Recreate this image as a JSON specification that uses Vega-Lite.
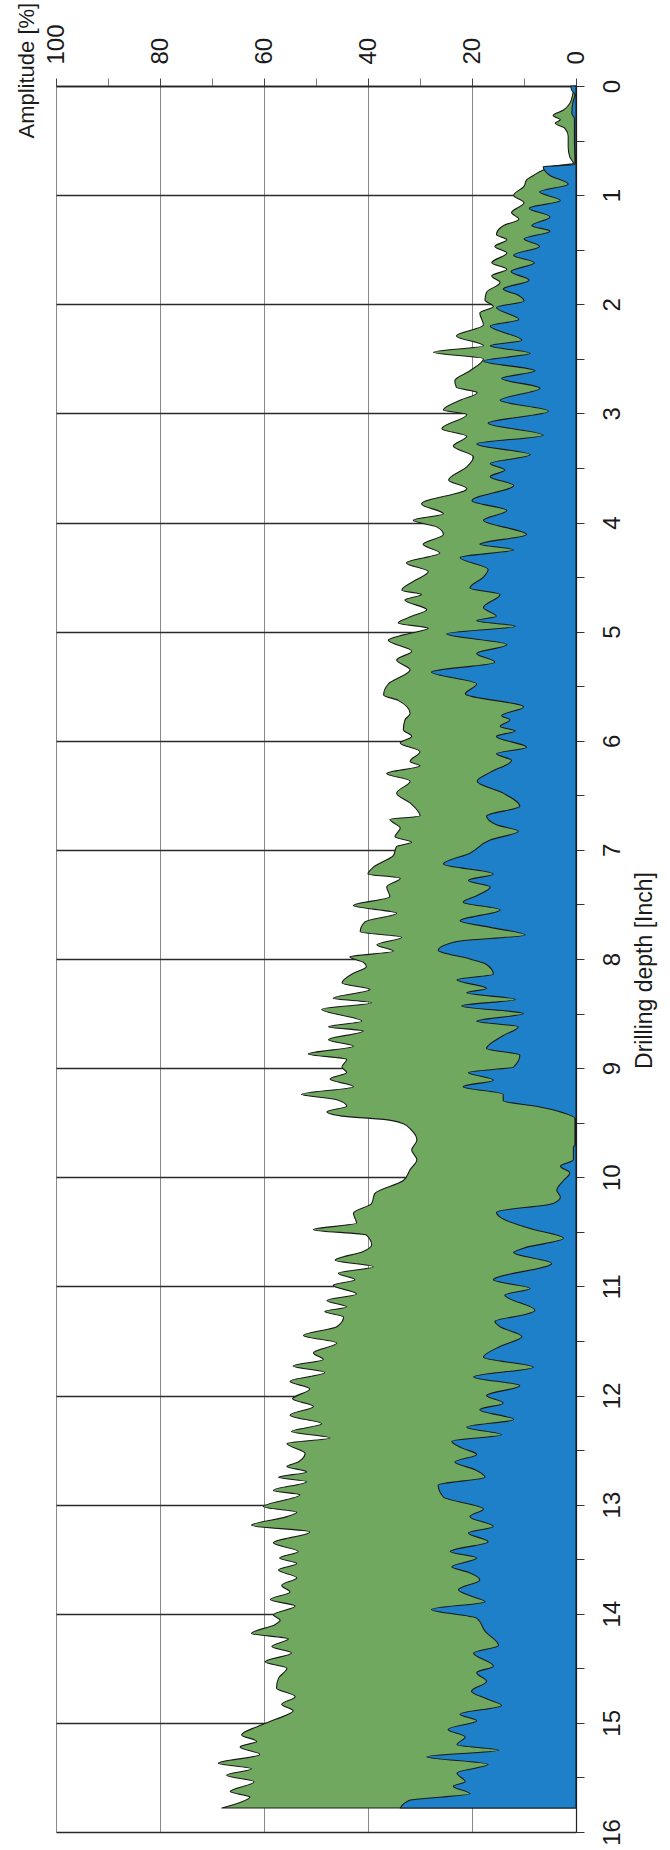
{
  "$schema": "https://vega.github.io/schema/vega-lite/v6.json",
  "width": 520,
  "height": 1746,
  "autosize": {"type": "none"},
  "padding": {"left": 56, "top": 86, "right": 94, "bottom": 18},
  "background": "white",
  "config": {"view": {"stroke": null}, "font": "Liberation Sans"},
  "datasets": {
    "green": [
      {"d":0,"a":0.2},{"d":0.05,"a":0.5},{"d":0.16,"a":1.2},{"d":0.22,"a":2.4},{"d":0.27,"a":4.4},{"d":0.31,"a":3},{"d":0.34,"a":4},{"d":0.39,"a":2.1},{"d":0.46,"a":1.5},{"d":0.56,"a":1.5},{"d":0.65,"a":1.2},{"d":0.71,"a":0.5},{"d":0.73,"a":3.7},{"d":0.77,"a":6.3},{"d":0.82,"a":8.2},{"d":0.86,"a":9.5},{"d":0.92,"a":10},{"d":1.0,"a":12},{"d":1.07,"a":10},{"d":1.16,"a":12.4},{"d":1.22,"a":11},{"d":1.28,"a":14},{"d":1.36,"a":15.3},{"d":1.41,"a":13.3},{"d":1.47,"a":15.6},{"d":1.53,"a":13.3},{"d":1.62,"a":16.2},{"d":1.68,"a":13.3},{"d":1.74,"a":16.2},{"d":1.8,"a":14.6},{"d":1.89,"a":17.2},{"d":1.96,"a":17.5},
      {"d":2.02,"a":15.9},{"d":2.08,"a":18.5},{"d":2.19,"a":17.8},{"d":2.29,"a":23},{"d":2.38,"a":17.8},{"d":2.44,"a":27.4},{"d":2.5,"a":17.8},{"d":2.61,"a":20.4},{"d":2.7,"a":23.3},{"d":2.76,"a":23},{"d":2.81,"a":19},{"d":2.88,"a":22.3},{"d":2.97,"a":25.5},{"d":3.01,"a":21},{"d":3.14,"a":25.8},{"d":3.21,"a":21},{"d":3.3,"a":23.6},{"d":3.4,"a":19.7},{"d":3.49,"a":21},{"d":3.61,"a":24.5},{"d":3.69,"a":21},{"d":3.83,"a":29.7},{"d":3.92,"a":25.5},{"d":3.98,"a":31.3},
      {"d":4.04,"a":26.8},{"d":4.11,"a":25.5},{"d":4.2,"a":29.4},{"d":4.28,"a":26.2},{"d":4.37,"a":32.6},{"d":4.45,"a":28.4},{"d":4.54,"a":31.3},{"d":4.62,"a":33.5},{"d":4.66,"a":29.7},{"d":4.71,"a":32.9},{"d":4.8,"a":28.7},{"d":4.86,"a":31.6},{"d":4.92,"a":34.2},{"d":4.97,"a":28.4},{"d":5.03,"a":33.2},{"d":5.08,"a":36.1},{"d":5.18,"a":31.6},{"d":5.26,"a":34.5},{"d":5.35,"a":31.9},{"d":5.48,"a":36.1},{"d":5.58,"a":37},{"d":5.63,"a":34.2},{"d":5.75,"a":31.9},{"d":5.81,"a":32.9},{"d":5.9,"a":33.2},{"d":5.96,"a":31.6},
      {"d":6.02,"a":33.8},{"d":6.1,"a":30},{"d":6.19,"a":31.9},{"d":6.23,"a":30},{"d":6.3,"a":36.4},{"d":6.37,"a":31.9},{"d":6.48,"a":34.5},{"d":6.57,"a":31.9},{"d":6.69,"a":30},{"d":6.72,"a":35.8},{"d":6.8,"a":33.8},{"d":6.88,"a":34.8},{"d":6.93,"a":31.6},{"d":6.97,"a":34.5},{"d":7.05,"a":35.1},{"d":7.16,"a":39},{"d":7.22,"a":40},{"d":7.26,"a":33.8},{"d":7.34,"a":36.4},{"d":7.43,"a":35.8},{"d":7.51,"a":42.8},{"d":7.58,"a":34.5},{"d":7.66,"a":40.6},{"d":7.75,"a":41.5},{"d":7.8,"a":33.5},{"d":7.87,"a":38.3},{"d":7.93,"a":35.1},{"d":7.98,"a":43.5},
      {"d":8.03,"a":40.9},{"d":8.07,"a":40.3},{"d":8.13,"a":42.8},{"d":8.22,"a":45},{"d":8.28,"a":39.6},{"d":8.36,"a":46.7},{"d":8.4,"a":39.3},{"d":8.46,"a":48.9},{"d":8.57,"a":41.2},{"d":8.62,"a":47.6},{"d":8.66,"a":40.9},{"d":8.74,"a":47.6},{"d":8.8,"a":42.8},{"d":8.87,"a":51.5},{"d":8.92,"a":44.1},{"d":8.99,"a":45},{"d":9.04,"a":44.1},{"d":9.1,"a":47.3},{"d":9.17,"a":42.8},{"d":9.24,"a":52.8},{"d":9.29,"a":46},{"d":9.35,"a":44.1},{"d":9.4,"a":47.9},{"d":9.44,"a":45},{"d":9.47,"a":37},{"d":9.51,"a":33.2},{"d":9.57,"a":31.6},{"d":9.66,"a":30.6},{"d":9.75,"a":31.6},{"d":9.84,"a":30.6},{"d":9.93,"a":31.9},
      {"d":10.03,"a":33.2},{"d":10.15,"a":38.7},{"d":10.24,"a":39.3},{"d":10.33,"a":42.8},{"d":10.42,"a":42.2},{"d":10.48,"a":50.5},{"d":10.53,"a":40.3},{"d":10.62,"a":39.3},{"d":10.68,"a":40.9},{"d":10.76,"a":46.3},{"d":10.82,"a":39},{"d":10.88,"a":45.7},{"d":10.94,"a":42.5},{"d":10.99,"a":46.7},{"d":11.07,"a":42.2},{"d":11.13,"a":47.9},{"d":11.19,"a":44.1},{"d":11.23,"a":48.3},{"d":11.28,"a":44.7},{"d":11.37,"a":46},{"d":11.45,"a":52.4},{"d":11.52,"a":46},{"d":11.61,"a":50.5},{"d":11.67,"a":48.6},{"d":11.73,"a":54.4},{"d":11.79,"a":48.3},{"d":11.87,"a":55},{"d":11.94,"a":51.2},
      {"d":12.03,"a":54.5},{"d":12.1,"a":50.5},{"d":12.18,"a":55},{"d":12.26,"a":48.9},{"d":12.33,"a":54.7},{"d":12.39,"a":47.3},{"d":12.44,"a":55.6},{"d":12.53,"a":52.1},{"d":12.61,"a":53.4},{"d":12.65,"a":55.6},{"d":12.7,"a":51.8},{"d":12.75,"a":57.2},{"d":12.79,"a":51.8},{"d":12.87,"a":58.2},{"d":12.91,"a":53.1},{"d":13.02,"a":60.1},{"d":13.07,"a":53.7},{"d":13.11,"a":55.6},{"d":13.19,"a":62.4},{"d":13.25,"a":51.2},{"d":13.35,"a":58.2},{"d":13.43,"a":53.4},{"d":13.49,"a":57},{"d":13.54,"a":53.7},{"d":13.6,"a":57.2},{"d":13.67,"a":53.7},{"d":13.74,"a":56.6},{"d":13.8,"a":55},{"d":13.87,"a":58.8},{"d":13.93,"a":54},
      {"d":14.01,"a":58.2},{"d":14.06,"a":56.9},{"d":14.1,"a":57.9},{"d":14.18,"a":62.4},{"d":14.23,"a":55.3},{"d":14.3,"a":58.5},{"d":14.36,"a":54.7},{"d":14.44,"a":59.8},{"d":14.5,"a":55.6},{"d":14.59,"a":57.2},{"d":14.68,"a":57.6},{"d":14.76,"a":54},{"d":14.83,"a":56.6},{"d":14.89,"a":54.4},{"d":14.97,"a":57.9},{"d":15.03,"a":61.1},{"d":15.11,"a":64.3},{"d":15.17,"a":61.4},{"d":15.22,"a":64.6},{"d":15.29,"a":60.8},{"d":15.37,"a":68.8},{"d":15.42,"a":62.4},{"d":15.48,"a":67.2},{"d":15.54,"a":61.9},{"d":15.63,"a":66.5},{"d":15.68,"a":62.7},{"d":15.73,"a":64.6},{"d":15.78,"a":68.1}
    ],
    "blue": [
      {"d":0,"a":1},{"d":0.04,"a":0.8},{"d":0.08,"a":0.2},{"d":0.15,"a":0.6},{"d":0.25,"a":0.8},{"d":0.3,"a":0.3},{"d":0.5,"a":0.3},{"d":0.7,"a":0.2},{"d":0.72,"a":0.3},{"d":0.74,"a":6.3},{"d":0.82,"a":5},{"d":0.9,"a":1.5},{"d":0.97,"a":7},{"d":1.05,"a":3},{"d":1.12,"a":9},{"d":1.2,"a":5},{"d":1.28,"a":8.5},{"d":1.33,"a":5},{"d":1.4,"a":10},{"d":1.47,"a":7},{"d":1.55,"a":12},{"d":1.62,"a":8},{"d":1.7,"a":12.5},{"d":1.78,"a":9},{"d":1.86,"a":14},{"d":1.92,"a":11},{"d":1.97,"a":10},
      {"d":2.03,"a":15.3},{"d":2.14,"a":11},{"d":2.2,"a":16.5},{"d":2.33,"a":10.4},{"d":2.38,"a":16.5},{"d":2.45,"a":8.8},{"d":2.52,"a":17.8},{"d":2.61,"a":7.9},{"d":2.68,"a":14.3},{"d":2.77,"a":6.9},{"d":2.88,"a":14.6},{"d":2.98,"a":5.3},{"d":3.09,"a":16.9},{"d":3.2,"a":6.3},{"d":3.28,"a":19.1},{"d":3.38,"a":8.8},{"d":3.46,"a":16.5},{"d":3.52,"a":13.7},{"d":3.58,"a":16.5},{"d":3.66,"a":12},{"d":3.8,"a":20},{"d":3.89,"a":13.3},{"d":3.98,"a":17.8},
      {"d":4.11,"a":9.5},{"d":4.2,"a":18.5},{"d":4.25,"a":12},{"d":4.32,"a":22.3},{"d":4.43,"a":16.9},{"d":4.5,"a":17.8},{"d":4.6,"a":20.4},{"d":4.66,"a":14.6},{"d":4.78,"a":17.8},{"d":4.86,"a":15.3},{"d":4.9,"a":19.1},{"d":4.95,"a":11.7},{"d":5.02,"a":24.9},{"d":5.12,"a":13.3},{"d":5.2,"a":19.1},{"d":5.28,"a":15.6},{"d":5.37,"a":27.8},{"d":5.48,"a":19.1},{"d":5.57,"a":21.3},{"d":5.69,"a":10.1},{"d":5.77,"a":14.3},{"d":5.81,"a":12.7},{"d":5.87,"a":14.6},{"d":5.91,"a":11.7},{"d":5.96,"a":15.3},
      {"d":6.06,"a":9.5},{"d":6.12,"a":15.3},{"d":6.18,"a":12.4},{"d":6.29,"a":16.5},{"d":6.37,"a":19},{"d":6.48,"a":14},{"d":6.6,"a":10.8},{"d":6.69,"a":17.2},{"d":6.77,"a":15.3},{"d":6.83,"a":11.1},{"d":6.91,"a":16.5},{"d":7.03,"a":20.4},{"d":7.13,"a":25.5},{"d":7.22,"a":15.9},{"d":7.28,"a":20.7},{"d":7.34,"a":16.5},{"d":7.42,"a":19.1},{"d":7.48,"a":21.7},{"d":7.55,"a":14.6},{"d":7.65,"a":22.3},{"d":7.71,"a":16.5},{"d":7.78,"a":9.8},{"d":7.84,"a":22.9},{"d":7.92,"a":26.5},
      {"d":8.0,"a":20.4},{"d":8.05,"a":17.2},{"d":8.14,"a":15.9},{"d":8.19,"a":22.9},{"d":8.27,"a":17.2},{"d":8.31,"a":21},{"d":8.37,"a":11.7},{"d":8.43,"a":22},{"d":8.5,"a":10.1},{"d":8.57,"a":19.1},{"d":8.62,"a":11.1},{"d":8.71,"a":14.3},{"d":8.82,"a":17.2},{"d":8.88,"a":10.8},{"d":8.99,"a":12},{"d":9.04,"a":20.7},{"d":9.11,"a":15.9},{"d":9.17,"a":21.7},{"d":9.24,"a":14},{"d":9.3,"a":14},{"d":9.35,"a":7.6},{"d":9.41,"a":2.4},{"d":9.46,"a":0.2},{"d":9.7,"a":0.2},{"d":9.73,"a":0.5},{"d":9.84,"a":0.5},{"d":9.9,"a":3},{"d":9.96,"a":1.2},
      {"d":10.03,"a":2.4},{"d":10.12,"a":3.7},{"d":10.18,"a":3},{"d":10.24,"a":4.4},{"d":10.32,"a":15.3},{"d":10.39,"a":13.7},{"d":10.47,"a":8.8},{"d":10.56,"a":2.4},{"d":10.65,"a":10.1},{"d":10.69,"a":12},{"d":10.79,"a":4.7},{"d":10.94,"a":15.9},{"d":11.02,"a":8.8},{"d":11.08,"a":13.7},{"d":11.22,"a":7.9},{"d":11.26,"a":10},{"d":11.32,"a":15.6},{"d":11.37,"a":14.6},{"d":11.46,"a":10.4},{"d":11.55,"a":14.6},{"d":11.65,"a":17.8},{"d":11.74,"a":8.2},{"d":11.83,"a":19.7},{"d":11.91,"a":10.8},
      {"d":12.0,"a":17.2},{"d":12.07,"a":14},{"d":12.13,"a":18.5},{"d":12.22,"a":12},{"d":12.29,"a":21},{"d":12.36,"a":14.3},{"d":12.42,"a":23.9},{"d":12.48,"a":22},{"d":12.54,"a":19.1},{"d":12.61,"a":23.3},{"d":12.68,"a":19.4},{"d":12.75,"a":17.5},{"d":12.82,"a":26.5},{"d":12.93,"a":25.5},{"d":13.04,"a":17.8},{"d":13.11,"a":20.4},{"d":13.2,"a":15.9},{"d":13.26,"a":20.7},{"d":13.34,"a":16.9},{"d":13.43,"a":24.2},{"d":13.49,"a":19.1},{"d":13.57,"a":23.9},{"d":13.62,"a":20.7},{"d":13.69,"a":18.5},{"d":13.78,"a":22.6},{"d":13.84,"a":20.1},{"d":13.89,"a":17.5},{"d":13.96,"a":27.8},
      {"d":14.04,"a":19.1},{"d":14.16,"a":17.5},{"d":14.29,"a":14.9},{"d":14.36,"a":19.7},{"d":14.48,"a":15.9},{"d":14.54,"a":19.1},{"d":14.62,"a":17.2},{"d":14.71,"a":20.1},{"d":14.78,"a":17.2},{"d":14.84,"a":14.3},{"d":14.92,"a":22.3},{"d":14.98,"a":19.1},{"d":15.06,"a":24.6},{"d":15.13,"a":21.3},{"d":15.2,"a":22.9},{"d":15.25,"a":14.9},{"d":15.31,"a":28.7},{"d":15.38,"a":16.9},{"d":15.46,"a":22.9},{"d":15.54,"a":21.3},{"d":15.58,"a":23.6},{"d":15.65,"a":20.4},{"d":15.71,"a":32},{"d":15.78,"a":33.8}
    ]
  },
  "encoding": {
    "x": {
      "field": "a", "type": "quantitative", "stack": null,
      "scale": {"domain": [0, 100], "reverse": true, "nice": false, "zero": true},
      "axis": {
        "orient": "top",
        "values": [0,10,20,30,40,50,60,70,80,90,100],
        "labelExpr": "datum.value % 20 === 0 ? format(datum.value, 'd') : ''",
        "labelAngle": 270, "labelAlign": "left", "labelBaseline": "middle",
        "labelFlush": false, "labelOverlap": false, "labelBound": false,
        "labelFontSize": 24, "labelColor": "#1a1a1a", "labelPadding": 14,
        "tickColor": "#444", "tickSize": 8,
        "tickOpacity": {"condition": {"test": "datum.value % 20 === 0", "value": 1}, "value": 0.7},
        "grid": true, "gridColor": "#8a8a8a", "gridWidth": 1,
        "gridOpacity": {"condition": {"test": "datum.value % 20 === 0", "value": 1}, "value": 0},
        "domainColor": "#222", "domainWidth": 1.5,
        "title": "Amplitude [%]", "titleAngle": 270, "titleAlign": "left", "titleBaseline": "middle",
        "titleX": -30, "titleY": 52, "titleFontSize": 22, "titleFontWeight": "normal", "titleColor": "#1a1a1a", "titleLimit": 400
      }
    },
    "y": {
      "field": "d", "type": "quantitative",
      "scale": {"domain": [0, 16], "reverse": true, "nice": false},
      "axis": {
        "orient": "right",
        "values": [0,0.5,1,1.5,2,2.5,3,3.5,4,4.5,5,5.5,6,6.5,7,7.5,8,8.5,9,9.5,10,10.5,11,11.5,12,12.5,13,13.5,14,14.5,15,15.5,16],
        "labelExpr": "datum.value % 1 === 0 ? format(datum.value, 'd') : ''",
        "labelAngle": 270, "labelAlign": "center", "labelBaseline": "top",
        "labelOverlap": false, "labelFlush": false, "labelBound": false,
        "labelFontSize": 24, "labelColor": "#1a1a1a", "labelPadding": 16,
        "tickColor": "#333", "tickSize": 8,
        "grid": true, "gridColor": "#2a2a2a", "gridWidth": 1.3,
        "gridOpacity": {"condition": {"test": "datum.value % 1 === 0", "value": 1}, "value": 0},
        "domainColor": "#222", "domainWidth": 1.2,
        "title": "Drilling depth [Inch]", "titleAngle": 270, "titleAlign": "center", "titleBaseline": "middle",
        "titleX": 68, "titleY": 884, "titleFontSize": 23, "titleFontWeight": "normal", "titleColor": "#1a1a1a", "titleLimit": 600
      }
    }
  },
  "layer": [
    {
      "data": {"name": "green"},
      "mark": {"type": "area", "orient": "horizontal", "interpolate": "monotone", "fill": "#6fa85e", "stroke": "#1a1a1a", "strokeWidth": 1.1, "strokeJoin": "round"}
    },
    {
      "data": {"name": "blue"},
      "mark": {"type": "area", "orient": "horizontal", "interpolate": "monotone", "fill": "#1e80c8", "stroke": "#1a1a1a", "strokeWidth": 1.1, "strokeJoin": "round"}
    }
  ]
}
